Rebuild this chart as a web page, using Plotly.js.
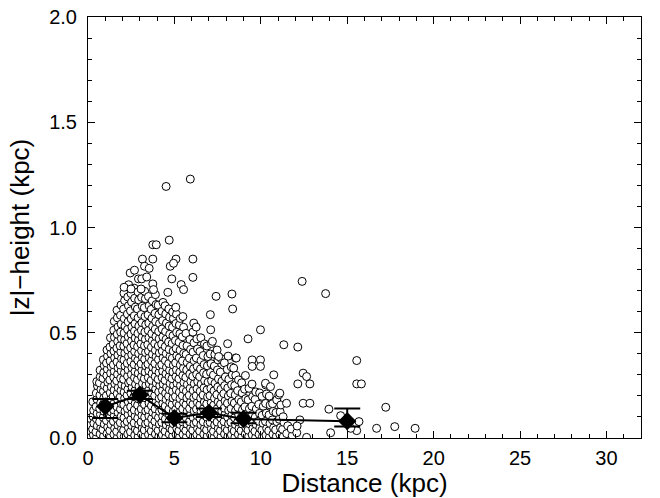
<!DOCTYPE html>
<html>
<head>
<meta charset="utf-8">
<script src="https://cdn.plot.ly/plotly-3.0.1.min.js"></script>
<style>html,body{margin:0;padding:0;background:#fff;}#chart{width:660px;height:498px;}</style>
</head>
<body>
<div id="chart"></div>
<script>
// Individual objects: [distance (kpc), |z| height (kpc)]
const innerPts = [
[0.1,0.008],[0.06,0.036],[0.13,0.061],[0.09,0.094],
[0.31,0.015],[0.27,0.042],[0.34,0.07],[0.29,0.103],[0.33,0.131],[0.28,0.172],
[0.5,0.004],[0.46,0.029],[0.54,0.058],[0.49,0.091],[0.53,0.117],[0.47,0.149],[0.52,0.184],[0.48,0.213],[0.55,0.247],[0.51,0.268],
[0.7,0.019],[0.74,0.048],[0.67,0.077],[0.72,0.112],[0.68,0.139],[0.73,0.166],[0.69,0.204],[0.75,0.231],[0.66,0.262],[0.71,0.291],[0.7,0.322],
[0.9,0.009],[0.86,0.039],[0.94,0.066],[0.88,0.098],[0.93,0.127],[0.87,0.158],[0.92,0.191],[0.89,0.222],[0.95,0.249],[0.87,0.283],[0.91,0.311],[0.94,0.344],[0.89,0.372],
[1.1,0.021],[1.14,0.052],[1.07,0.083],[1.12,0.109],[1.08,0.143],[1.13,0.176],[1.06,0.201],[1.11,0.236],[1.15,0.265],[1.09,0.297],[1.12,0.327],[1.07,0.356],[1.13,0.389],[1.1,0.418],
[1.3,0.006],[1.26,0.035],[1.33,0.064],[1.28,0.097],[1.34,0.124],[1.27,0.152],[1.32,0.187],[1.29,0.215],[1.35,0.243],[1.26,0.276],[1.31,0.308],[1.34,0.339],[1.28,0.366],[1.33,0.401],[1.27,0.432],[1.3,0.476],
[1.5,0.017],[1.54,0.046],[1.47,0.079],[1.52,0.106],[1.48,0.134],[1.53,0.169],[1.46,0.197],[1.51,0.228],[1.55,0.258],[1.49,0.289],[1.52,0.317],[1.47,0.348],[1.54,0.381],[1.5,0.413],[1.46,0.446],[1.53,0.478],[1.49,0.512],[1.52,0.554],
[1.7,0.003],[1.66,0.031],[1.73,0.061],[1.68,0.092],[1.74,0.121],[1.67,0.149],[1.72,0.181],[1.69,0.211],[1.75,0.239],[1.66,0.272],[1.71,0.303],[1.74,0.333],[1.68,0.362],[1.73,0.394],[1.67,0.427],[1.72,0.459],[1.69,0.493],[1.74,0.528],[1.7,0.571],[1.68,0.607],
[1.9,0.014],[1.94,0.044],[1.87,0.073],[1.92,0.103],[1.88,0.137],[1.93,0.163],[1.86,0.194],[1.91,0.226],[1.95,0.254],[1.89,0.284],[1.92,0.319],[1.87,0.347],[1.94,0.377],[1.9,0.409],[1.86,0.438],[1.93,0.472],[1.89,0.503],[1.92,0.541],[1.88,0.583],[1.91,0.632],
[2.1,0.007],[2.06,0.037],[2.13,0.068],[2.08,0.096],[2.14,0.127],[2.07,0.158],[2.12,0.189],[2.09,0.218],[2.15,0.247],[2.06,0.279],[2.11,0.31],[2.14,0.342],[2.08,0.371],[2.13,0.403],[2.07,0.436],[2.12,0.466],[2.09,0.499],[2.14,0.532],[2.1,0.567],[2.06,0.612],[2.12,0.653],[2.08,0.688],
[2.3,0.019],[2.34,0.049],[2.27,0.078],[2.32,0.111],[2.28,0.14],[2.33,0.172],[2.26,0.203],[2.31,0.231],[2.35,0.262],[2.29,0.294],[2.32,0.324],[2.27,0.355],[2.34,0.387],[2.3,0.418],[2.26,0.449],[2.33,0.481],[2.29,0.516],[2.32,0.552],[2.28,0.589],[2.34,0.628],[2.3,0.67],[2.35,0.728],
[2.5,0.002],[2.46,0.029],[2.53,0.059],[2.48,0.088],[2.54,0.119],[2.47,0.148],[2.52,0.181],[2.49,0.212],[2.55,0.241],[2.46,0.27],[2.51,0.302],[2.54,0.334],[2.48,0.364],[2.53,0.396],[2.47,0.428],[2.52,0.462],[2.49,0.494],[2.54,0.528],[2.5,0.566],[2.46,0.604],[2.52,0.646],[2.49,0.686],
[2.7,0.013],[2.74,0.043],[2.67,0.072],[2.72,0.104],[2.68,0.133],[2.73,0.164],[2.66,0.196],[2.71,0.224],[2.75,0.256],[2.69,0.287],[2.72,0.316],[2.67,0.349],[2.74,0.379],[2.7,0.411],[2.66,0.442],[2.73,0.475],[2.69,0.508],[2.72,0.543],[2.68,0.581],[2.74,0.622],[2.7,0.664],[2.67,0.712],
[2.9,0.005],[2.86,0.034],[2.93,0.065],[2.88,0.094],[2.94,0.125],[2.87,0.156],[2.92,0.186],[2.89,0.216],[2.95,0.246],[2.86,0.277],[2.91,0.308],[2.94,0.339],[2.88,0.369],[2.93,0.401],[2.87,0.434],[2.92,0.465],[2.89,0.497],[2.94,0.532],[2.9,0.571],[2.86,0.613],[2.93,0.656],[2.89,0.694]
];
const midPts = [
[3.1,0.018],[3.14,0.047],[3.07,0.076],[3.12,0.108],[3.08,0.138],[3.13,0.168],[3.06,0.199],[3.11,0.229],[3.15,0.259],[3.09,0.291],[3.12,0.321],[3.07,0.352],[3.14,0.384],[3.1,0.415],[3.06,0.447],[3.13,0.479],[3.09,0.512],[3.12,0.548],[3.08,0.587],[3.14,0.626],[3.1,0.668],
[3.3,0.008],[3.26,0.038],[3.33,0.067],[3.28,0.099],[3.34,0.128],[3.27,0.159],[3.32,0.191],[3.29,0.221],[3.35,0.251],[3.26,0.282],[3.31,0.313],[3.34,0.343],[3.28,0.374],[3.33,0.406],[3.27,0.438],[3.32,0.469],[3.29,0.503],[3.34,0.538],[3.3,0.577],[3.26,0.619],[3.32,0.662],[3.28,0.697],
[3.5,0.016],[3.54,0.045],[3.47,0.074],[3.52,0.105],[3.48,0.135],[3.53,0.166],[3.46,0.197],[3.51,0.227],[3.55,0.257],[3.49,0.288],[3.52,0.319],[3.47,0.351],[3.54,0.382],[3.5,0.413],[3.46,0.444],[3.53,0.477],[3.49,0.511],[3.52,0.546],[3.48,0.585],[3.54,0.628],[3.5,0.672],
[3.7,0.004],[3.66,0.033],[3.73,0.063],[3.68,0.092],[3.74,0.122],[3.67,0.153],[3.72,0.184],[3.69,0.214],[3.75,0.244],[3.66,0.274],[3.71,0.306],[3.74,0.337],[3.68,0.367],[3.73,0.398],[3.67,0.431],[3.72,0.463],[3.69,0.496],[3.74,0.531],[3.7,0.569],[3.66,0.611],[3.72,0.652],
[3.9,0.019],[3.94,0.049],[3.87,0.079],[3.92,0.109],[3.88,0.139],[3.93,0.17],[3.86,0.201],[3.91,0.232],[3.95,0.261],[3.89,0.292],[3.92,0.323],[3.87,0.354],[3.94,0.386],[3.9,0.417],[3.86,0.449],[3.93,0.482],[3.89,0.517],[3.92,0.553],[3.88,0.592],[3.94,0.634],[3.9,0.681],
[4.1,0.007],[4.06,0.036],[4.13,0.066],[4.08,0.097],[4.14,0.126],[4.07,0.157],[4.12,0.188],[4.09,0.219],[4.15,0.249],[4.06,0.279],[4.11,0.311],[4.14,0.341],[4.08,0.373],[4.13,0.404],[4.07,0.437],[4.12,0.471],[4.09,0.506],[4.14,0.544],[4.1,0.586],[4.06,0.631],
[4.3,0.015],[4.34,0.044],[4.27,0.074],[4.32,0.104],[4.28,0.134],[4.33,0.165],[4.26,0.195],[4.31,0.226],[4.35,0.256],[4.29,0.287],[4.32,0.318],[4.27,0.349],[4.34,0.381],[4.3,0.413],[4.26,0.446],[4.33,0.481],[4.29,0.518],[4.32,0.558],[4.28,0.602],[4.34,0.644],
[4.5,0.003],[4.46,0.032],[4.53,0.062],[4.48,0.091],[4.54,0.121],[4.47,0.152],[4.52,0.183],[4.49,0.213],[4.55,0.243],[4.46,0.274],[4.51,0.305],[4.54,0.336],[4.48,0.368],[4.53,0.401],[4.47,0.434],[4.52,0.469],[4.49,0.506],[4.54,0.546],[4.5,0.589],[4.46,0.628],
[4.7,0.018],[4.74,0.047],[4.67,0.077],[4.72,0.108],[4.68,0.137],[4.73,0.168],[4.66,0.199],[4.71,0.229],[4.75,0.259],[4.69,0.291],[4.72,0.322],[4.67,0.354],[4.74,0.387],[4.7,0.421],[4.66,0.456],[4.73,0.493],[4.69,0.532],[4.72,0.574],[4.68,0.613],
[4.9,0.009],[4.86,0.038],[4.93,0.068],[4.88,0.099],[4.94,0.128],[4.87,0.159],[4.92,0.19],[4.89,0.221],[4.95,0.251],[4.86,0.282],[4.91,0.314],[4.94,0.346],[4.88,0.379],[4.93,0.413],[4.87,0.449],[4.92,0.486],[4.89,0.526],[4.94,0.568],[4.9,0.598],
[5.1,0.016],[5.14,0.045],[5.07,0.075],[5.12,0.106],[5.08,0.136],[5.13,0.167],[5.06,0.198],[5.11,0.229],[5.15,0.26],[5.09,0.292],[5.12,0.324],[5.07,0.357],[5.14,0.391],[5.1,0.426],[5.06,0.463],[5.13,0.502],[5.09,0.544],[5.12,0.588],[5.08,0.621],
[5.3,0.005],[5.26,0.034],[5.33,0.064],[5.28,0.095],[5.34,0.125],[5.27,0.156],[5.32,0.187],[5.29,0.218],[5.35,0.249],[5.26,0.281],[5.31,0.313],[5.34,0.346],[5.28,0.381],[5.33,0.417],[5.27,0.455],[5.32,0.496],[5.29,0.537],[5.34,0.568],
[5.5,0.017],[5.54,0.047],[5.47,0.077],[5.52,0.108],[5.48,0.138],[5.53,0.169],[5.46,0.201],[5.51,0.232],[5.55,0.264],[5.49,0.297],[5.52,0.331],[5.47,0.366],[5.54,0.402],[5.5,0.44],[5.46,0.481],[5.53,0.526],[5.49,0.577],
[5.7,0.006],[5.66,0.035],[5.73,0.066],[5.68,0.097],[5.74,0.127],[5.67,0.158],[5.72,0.19],[5.69,0.222],[5.75,0.254],[5.66,0.288],[5.71,0.323],[5.74,0.359],[5.68,0.397],[5.73,0.438],[5.67,0.497],
[5.9,0.019],[5.94,0.048],[5.87,0.078],[5.92,0.109],[5.88,0.14],[5.93,0.171],[5.86,0.203],[5.91,0.236],[5.95,0.269],[5.89,0.304],[5.92,0.341],[5.87,0.379],[5.94,0.421],[5.9,0.468]
];
const outerPts = [
[6.1,0.008],[6.06,0.037],[6.13,0.067],[6.08,0.098],[6.14,0.129],[6.07,0.16],[6.12,0.192],[6.09,0.225],[6.15,0.258],[6.06,0.293],[6.11,0.329],[6.14,0.367],[6.08,0.408],[6.13,0.452],[6.07,0.503],[6.12,0.546],
[6.3,0.016],[6.34,0.045],[6.27,0.075],[6.32,0.106],[6.28,0.137],[6.33,0.169],[6.26,0.201],[6.31,0.234],[6.35,0.268],[6.29,0.303],[6.32,0.34],[6.27,0.38],[6.34,0.423],[6.3,0.471],[6.26,0.527],
[6.5,0.004],[6.46,0.033],[6.53,0.063],[6.48,0.094],[6.54,0.125],[6.47,0.157],[6.52,0.189],[6.49,0.222],[6.55,0.256],[6.46,0.291],[6.51,0.328],[6.54,0.368],[6.48,0.411],[6.53,0.476],
[6.7,0.018],[6.74,0.047],[6.67,0.077],[6.72,0.108],[6.68,0.139],[6.73,0.171],[6.66,0.204],[6.71,0.238],[6.75,0.273],[6.69,0.31],[6.72,0.349],[6.67,0.392],[6.74,0.447],
[6.9,0.009],[6.86,0.038],[6.93,0.068],[6.88,0.099],[6.94,0.13],[6.87,0.162],[6.92,0.195],[6.89,0.229],[6.95,0.265],[6.86,0.303],[6.91,0.343],[6.94,0.387],[6.88,0.437],
[7.1,0.015],[7.14,0.044],[7.07,0.074],[7.12,0.105],[7.08,0.136],[7.13,0.168],[7.06,0.201],[7.11,0.236],[7.15,0.272],[7.09,0.311],[7.12,0.353],[7.07,0.399],[7.14,0.449],[7.1,0.514],[7.08,0.586],
[7.3,0.003],[7.26,0.032],[7.33,0.062],[7.28,0.093],[7.34,0.124],[7.27,0.156],[7.32,0.189],[7.29,0.224],[7.35,0.26],[7.26,0.299],[7.31,0.342],[7.34,0.397],
[7.5,0.017],[7.54,0.046],[7.47,0.076],[7.52,0.107],[7.48,0.139],[7.53,0.172],[7.46,0.206],[7.51,0.242],[7.55,0.281],[7.49,0.323],[7.52,0.371],[7.47,0.418],
[7.7,0.006],[7.66,0.035],[7.73,0.065],[7.68,0.096],[7.74,0.128],[7.67,0.161],[7.72,0.195],[7.69,0.231],[7.75,0.27],[7.66,0.313],[7.71,0.377],
[7.9,0.019],[7.94,0.048],[7.87,0.078],[7.92,0.11],[7.88,0.142],[7.93,0.176],[7.86,0.211],[7.91,0.249],[7.95,0.29],[7.89,0.357],
[8.1,0.008],[8.06,0.037],[8.13,0.067],[8.08,0.099],[8.14,0.131],[8.07,0.165],[8.12,0.2],[8.09,0.238],[8.15,0.279],[8.06,0.326],[8.11,0.389],[8.08,0.448],
[8.3,0.015],[8.34,0.044],[8.27,0.075],[8.32,0.107],[8.28,0.14],[8.33,0.175],[8.26,0.212],[8.31,0.253],[8.35,0.3],[8.29,0.338],
[8.5,0.004],[8.46,0.033],[8.53,0.064],[8.48,0.096],[8.54,0.13],[8.47,0.166],[8.52,0.205],[8.49,0.249],[8.55,0.298],
[8.7,0.017],[8.74,0.046],[8.67,0.077],[8.72,0.11],[8.68,0.145],[8.73,0.183],[8.66,0.225],[8.71,0.276],
[8.9,0.006],[8.86,0.035],[8.93,0.066],[8.88,0.099],[8.94,0.134],[8.87,0.172],[8.92,0.214],[8.89,0.262],
[9.1,0.019],[9.14,0.048],[9.07,0.079],[9.12,0.112],[9.08,0.148],[9.13,0.187],[9.06,0.232],[9.11,0.297],
[9.3,0.008],[9.26,0.037],[9.33,0.068],[9.28,0.102],[9.34,0.139],[9.27,0.181],[9.32,0.236],
[9.5,0.015],[9.54,0.045],[9.47,0.077],[9.52,0.112],[9.48,0.151],[9.53,0.197],[9.49,0.256],
[9.7,0.003],[9.66,0.032],[9.73,0.064],[9.68,0.099],[9.74,0.138],[9.67,0.183],[9.71,0.219],
[9.9,0.017],[9.94,0.047],[9.87,0.08],[9.92,0.117],[9.88,0.16],[9.93,0.214]
];
const tailPts = [
[10.1,0.007],[10.06,0.037],[10.13,0.07],[10.08,0.108],[10.14,0.151],[10.07,0.198],
[10.3,0.014],[10.34,0.045],[10.27,0.079],[10.32,0.118],[10.28,0.164],[10.33,0.209],[10.29,0.252],
[10.5,0.004],[10.46,0.034],[10.53,0.069],[10.48,0.11],[10.54,0.157],[10.49,0.199],
[10.7,0.018],[10.74,0.049],[10.67,0.086],[10.72,0.127],[10.68,0.163],
[10.9,0.008],[10.86,0.039],[10.93,0.077],[10.88,0.121],[10.92,0.181],
[11.1,0.016],[11.14,0.049],[11.07,0.089],[11.12,0.124],[11.04,0.205],[11.16,0.157],
[11.3,0.006],[11.26,0.041],[11.34,0.074],[11.5,0.021],[11.56,0.058],[11.82,0.011],[11.76,0.043],[12.08,0.025]
];
const outlierPts = [
[4.52,1.195],[5.92,1.23],[4.7,0.94],[3.75,0.918],[3.95,0.918],[3.15,0.85],[3.75,0.85],[5.09,0.85],[6.07,0.85],
[4.76,0.816],[4.95,0.83],[3.27,0.816],[3.54,0.806],[2.44,0.784],[2.69,0.797],[2.92,0.756],[3.11,0.756],[3.4,0.765],
[4.85,0.756],[6.07,0.763],[2.09,0.716],[2.49,0.708],[3.07,0.708],[3.75,0.732],[3.79,0.705],[5.39,0.729],[5.53,0.705],
[4.62,0.692],[7.41,0.673],[8.33,0.684],[8.37,0.613],[9.98,0.514],[9.26,0.471],[11.33,0.443],[12.14,0.432],
[12.39,0.744],[13.75,0.686],[9.5,0.371],[9.98,0.371],[9.5,0.34],[9.98,0.34],[8.53,0.38],[8.43,0.332],[10.75,0.3],
[12.45,0.308],[12.65,0.292],[12.84,0.257],[12.14,0.257],[12.45,0.165],[12.84,0.165],[13.94,0.137],[14.62,0.106],
[14.04,0.025],[15.55,0.368],[15.55,0.257],[15.82,0.257],[15.68,0.078],[15.55,0.035],[15.2,0.046],[16.7,0.046],
[17.23,0.146],[17.75,0.054],[18.93,0.046],[11.1,0.213],[11.49,0.165],[11.29,0.101],[12.26,0.086],[12.1,0.057],[12.65,0.003],
[7.2,0.459],[7.56,0.387],[8.58,0.38],[10.27,0.26],[10.56,0.244]
];

// Binned means with error bars
const binDist = [1, 3, 5, 7, 9, 15];
const binZ = [0.15, 0.205, 0.095, 0.12, 0.09, 0.08];
const binErrUp = [0.035, 0.02, 0.02, 0.02, 0.03, 0.06];
const binErrDown = [0.055, 0.02, 0.02, 0.02, 0.02, 0.025];

// Axis ticks
const xTicks = [0, 5, 10, 15, 20, 25, 30];
const yTicks = [0.0, 0.5, 1.0, 1.5, 2.0];

const allPts = innerPts.concat(midPts, outerPts, tailPts, outlierPts);

const scatter = {
  type: 'scatter', mode: 'markers',
  x: allPts.map(p => p[0]), y: allPts.map(p => p[1]),
  marker: {symbol: 'circle', size: 8, color: '#ffffff', line: {color: '#000000', width: 1}},
  hoverinfo: 'skip', showlegend: false
};
const bins = {
  type: 'scatter', mode: 'lines+markers',
  x: binDist, y: binZ,
  line: {color: '#000000', width: 2},
  marker: {symbol: 'diamond', size: 14, color: '#000000'},
  error_y: {type: 'data', symmetric: false, array: binErrUp, arrayminus: binErrDown, color: '#000000', thickness: 2, width: 13},
  showlegend: false
};

const fontFam = 'Liberation Sans, Arial, Helvetica, sans-serif';
const layout = {
  width: 660, height: 498,
  margin: {l: 88, r: 19, t: 17, b: 60},
  paper_bgcolor: '#ffffff', plot_bgcolor: '#ffffff',
  font: {family: fontFam, color: '#000000', size: 20},
  showlegend: false,
  xaxis: {
    range: [0, 32], tickvals: xTicks, ticktext: xTicks.map(String),
    ticks: 'inside', ticklen: 7, tickwidth: 1, tickcolor: '#000',
    minor: {dtick: 1, ticks: 'inside', ticklen: 4, tickcolor: '#000'},
    showline: true, linecolor: '#000', linewidth: 1, mirror: 'allticks',
    showgrid: false, zeroline: false, ticklabelstandoff: 2,
    tickfont: {size: 20, family: fontFam},
    title: {text: 'Distance (kpc)', font: {size: 26, family: fontFam}, standoff: 2}
  },
  yaxis: {
    range: [0, 2], tickvals: yTicks, ticktext: yTicks.map(v => v.toFixed(1)),
    ticks: 'inside', ticklen: 7, tickwidth: 1, tickcolor: '#000',
    minor: {dtick: 0.1, ticks: 'inside', ticklen: 4, tickcolor: '#000'},
    showline: true, linecolor: '#000', linewidth: 1, mirror: 'allticks',
    showgrid: false, zeroline: false, ticklabelstandoff: 6,
    tickfont: {size: 20, family: fontFam},
    title: {text: '|z|\u2212height (kpc)', font: {size: 26, family: fontFam}, standoff: 12}
  }
};

Plotly.newPlot('chart', [scatter, bins], layout, {staticPlot: true, displayModeBar: false});
</script>
</body>
</html>
